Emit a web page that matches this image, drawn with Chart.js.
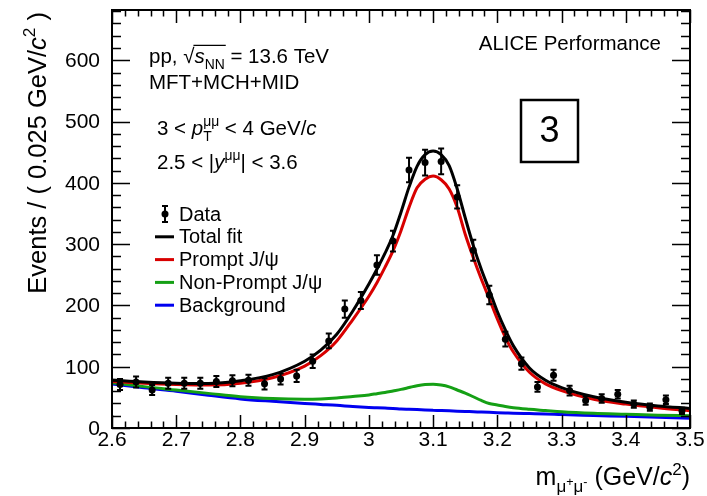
<!DOCTYPE html>
<html>
<head>
<meta charset="utf-8">
<script src="https://cdn.jsdelivr.net/npm/chart.js@4.4.0/dist/chart.umd.min.js"></script>
<style>
html, body { margin: 0; padding: 0; background: #fff; }
</style>
</head>
<body>
<canvas id="myChart" width="707" height="496"></canvas>
<script>
// Data points (bin centres, 0.025 GeV/c2 bins)
var binCenters = [2.6125, 2.6375, 2.6625, 2.6875, 2.7125, 2.7375, 2.7625, 2.7875, 2.8125, 2.8375,
    2.8625, 2.8875, 2.9125, 2.9375, 2.9625, 2.9875, 3.0125, 3.0375, 3.0625, 3.0875,
    3.1125, 3.1375, 3.1625, 3.1875, 3.2125, 3.2375, 3.2625, 3.2875, 3.3125, 3.3375,
    3.3625, 3.3875, 3.4125, 3.4375, 3.4625, 3.4875];
var counts = [71, 75, 62, 73, 73, 73, 76, 77, 78, 72,
    80, 85, 109, 142, 194, 208, 266, 305, 421, 433,
    435, 377, 290, 217, 145, 105, 67, 86, 61, 45,
    48, 55, 39, 34, 46, 28];
var errors = [9, 9, 8, 9, 9, 9, 9, 9, 9, 9,
    9, 10, 11, 12, 14, 14, 16, 17, 20, 21,
    21, 19, 17, 15, 12, 10, 8, 9, 8, 7,
    7, 7, 6, 6, 7, 5];

// Fit curves
var fitMass = [2.6, 2.65, 2.7, 2.75, 2.8, 2.85, 2.9, 2.925, 2.95, 2.975,
    3.0, 3.0125, 3.025, 3.0375, 3.05, 3.0625, 3.075, 3.0875, 3.1, 3.1125,
    3.125, 3.1375, 3.15, 3.1625, 3.175, 3.1875, 3.2, 3.2125, 3.225, 3.25,
    3.275, 3.3, 3.35, 3.4, 3.45, 3.5];
var totalFit = [78, 75, 73, 72.5, 77, 87, 109, 127, 153, 191,
    235, 259, 285, 314, 352, 393, 427, 446, 452, 446,
    428, 390, 343, 298, 259, 225, 190, 160, 134, 98,
    78, 66, 51, 42, 36, 32];
var promptFit = [76, 73, 71, 70, 73, 82, 101, 118, 142, 177,
    215, 237, 262, 289, 322, 360, 392, 406, 411, 405,
    390, 360, 316, 278, 243, 211, 178, 148, 124, 91,
    72, 61, 47, 39, 33, 28];
var nonPromptFit = [74, 67.5, 62, 56.5, 51, 48, 47, 47.5, 49, 51.5,
    54, 56, 58, 60.5, 63, 66, 69, 71, 71.5, 70,
    67, 62, 57, 51, 45, 40, 37.5, 35, 33, 30.5,
    28.5, 26.5, 24, 22.5, 21, 20];
var backgroundFit = [72, 65.5, 60, 53.5, 47.5, 43.5, 40, 38.5, 37, 35,
    33.5, 33, 32.5, 32, 31, 30.5, 30, 29.5, 29, 28.5,
    28, 27.5, 27, 26.5, 26, 25.5, 25, 24.5, 24, 23.5,
    23, 22, 20.5, 19, 17.5, 16];

// Axis ticks
var xTickValues = [2.6, 2.7, 2.8, 2.9, 3.0, 3.1, 3.2, 3.3, 3.4, 3.5];
var xTickLabels = ['2.6', '2.7', '2.8', '2.9', '3', '3.1', '3.2', '3.3', '3.4', '3.5'];
var yTickValues = [0, 100, 200, 300, 400, 500, 600];

var FONT = '"Liberation Sans", Arial, Helvetica, sans-serif';

function pts(xs, ys) {
    return xs.map(function (x, i) { return { x: x, y: ys[i] }; });
}

// draw text with sub/superscripts, returns width
function drawRich(ctx, x, y, parts, size, dry) {
    var x0 = x, holdW = 0, overX = 0;
    parts.forEach(function (p) {
        var fs = size, dy = 0;
        if (p.sup || p.sub) fs = size * 0.68;
        if (p.ssub) fs = size * 0.5;
        if (p.sup) dy = -size * 0.42;
        if (p.sub) dy = size * 0.28;
        if (p.ssub) dy = size * 0.02;
        ctx.font = (p.i ? 'italic ' : '') + fs.toFixed(1) + 'px ' + FONT;
        var w = ctx.measureText(p.t).width;
        if (!dry) ctx.fillText(p.t, x, y + dy);
        if (p.overStart) overX = x - 1;
        if (p.overEnd && !dry) {
            ctx.save();
            ctx.lineWidth = 1.3;
            ctx.beginPath();
            ctx.moveTo(overX, y - size * 0.86);
            ctx.lineTo(x + w + 1, y - size * 0.86);
            ctx.stroke();
            ctx.restore();
        }
        if (p.hold) {
            holdW = w;
        } else {
            x += Math.max(w, holdW);
            holdW = 0;
        }
    });
    return x - x0;
}

var rootStyle = {
    id: 'rootStyle',
    afterDatasetsDraw(chart) {
        var ctx = chart.ctx, xs = chart.scales.x, ys = chart.scales.y;
        // error bars of the data points
        ctx.save();
        ctx.strokeStyle = '#000';
        ctx.lineWidth = 2;
        for (var i = 0; i < counts.length; i++) {
            var px = xs.getPixelForValue(binCenters[i]);
            var lo = ys.getPixelForValue(counts[i] - errors[i]);
            var hi = ys.getPixelForValue(counts[i] + errors[i]);
            ctx.beginPath();
            ctx.moveTo(px, lo); ctx.lineTo(px, hi);
            ctx.moveTo(px - 3, lo); ctx.lineTo(px + 3, lo);
            ctx.moveTo(px - 3, hi); ctx.lineTo(px + 3, hi);
            ctx.stroke();
        }
        ctx.restore();
    },
    afterDraw(chart) {
        var ctx = chart.ctx, a = chart.chartArea;
        var xs = chart.scales.x, ys = chart.scales.y;
        ctx.save();
        ctx.strokeStyle = '#000';
        ctx.fillStyle = '#000';

        // frame
        ctx.lineWidth = 2;
        ctx.strokeRect(a.left, a.top, a.right - a.left, a.bottom - a.top);

        // ticks on all four sides, pointing inwards
        ctx.lineWidth = 1.5;
        ctx.beginPath();
        for (var k = 0; k <= 45; k++) {
            var v = 2.6 + k * 0.02;
            var px = Math.round(xs.getPixelForValue(v)) + 0.5;
            var len = (k % 5 === 0) ? 13 : 6.5;
            ctx.moveTo(px, a.bottom); ctx.lineTo(px, a.bottom - len);
            ctx.moveTo(px, a.top); ctx.lineTo(px, a.top + len);
        }
        for (var j = 0; j * 20 <= ys.max; j++) {
            var py = Math.round(ys.getPixelForValue(j * 20)) + 0.5;
            var ylen = (j % 5 === 0) ? 18 : 9;
            ctx.moveTo(a.left, py); ctx.lineTo(a.left + ylen, py);
            ctx.moveTo(a.right, py); ctx.lineTo(a.right - ylen, py);
        }
        ctx.stroke();

        // tick labels
        ctx.font = '21px ' + FONT;
        ctx.textAlign = 'center';
        ctx.textBaseline = 'alphabetic';
        xTickValues.forEach(function (v, i) {
            ctx.fillText(xTickLabels[i], xs.getPixelForValue(v), a.bottom + 18);
        });
        ctx.textAlign = 'right';
        ctx.textBaseline = 'middle';
        yTickValues.forEach(function (v) {
            ctx.fillText(String(v), a.left - 12, ys.getPixelForValue(v) + 1);
        });

        // axis titles (ROOT style: aligned to the end of the axis)
        ctx.textAlign = 'left';
        ctx.textBaseline = 'alphabetic';
        var xTitle = [{ t: 'm' }, { t: 'μ', sub: 1 }, { t: '+', ssub: 1 }, { t: 'μ', sub: 1 }, { t: '-', ssub: 1 },
            { t: ' (GeV/' }, { t: 'c', i: 1 }, { t: '2', sup: 1 }, { t: ')' }];
        var wx = drawRich(ctx, 0, 0, xTitle, 25, true);
        drawRich(ctx, a.right - wx, 485, xTitle, 25);

        var yTitle = [{ t: 'Events / ( 0.025 GeV/' }, { t: 'c', i: 1 }, { t: '2', sup: 1 }, { t: ' )' }];
        var wy = drawRich(ctx, 0, 0, yTitle, 25.5, true);
        ctx.save();
        ctx.translate(46, a.top + 2);
        ctx.rotate(-Math.PI / 2);
        drawRich(ctx, -wy, 0, yTitle, 25.5);
        ctx.restore();

        // text blocks
        drawRich(ctx, 149, 63, [{ t: 'pp, ' }, { t: '√' }, { t: 's', i: 1, overStart: 1 }, { t: 'NN', sub: 1, overEnd: 1 },
            { t: ' = 13.6 TeV' }], 20.5);
        drawRich(ctx, 149, 89, [{ t: 'MFT+MCH+MID' }], 20.5);
        drawRich(ctx, 157, 135, [{ t: '3 < ' }, { t: 'p', i: 1 }, { t: 'μμ', sup: 1, hold: 1 }, { t: 'T', sub: 1 },
            { t: ' < 4 GeV/' }, { t: 'c', i: 1 }], 20.5);
        drawRich(ctx, 157, 169, [{ t: '2.5 < |' }, { t: 'y', i: 1 }, { t: 'μμ', sup: 1 }, { t: '| < 3.6' }], 20.5);

        ctx.font = '20.5px ' + FONT;
        ctx.textAlign = 'right';
        ctx.fillText('ALICE Performance', 661, 50);

        // box with the pT interval number
        ctx.lineWidth = 2.5;
        ctx.strokeRect(521, 100, 57, 62);
        ctx.font = '36px ' + FONT;
        ctx.textAlign = 'center';
        ctx.textBaseline = 'middle';
        ctx.fillText('3', 549.5, 132);

        // legend
        var legendY = 214, step = 22.8;
        ctx.font = '20px ' + FONT;
        ctx.textAlign = 'left';
        ctx.textBaseline = 'middle';
        ctx.lineWidth = 2;
        ctx.beginPath();
        ctx.moveTo(165, legendY - 8); ctx.lineTo(165, legendY + 8);
        ctx.moveTo(162, legendY - 8); ctx.lineTo(168, legendY - 8);
        ctx.moveTo(162, legendY + 8); ctx.lineTo(168, legendY + 8);
        ctx.stroke();
        ctx.beginPath();
        ctx.arc(165, legendY, 3.5, 0, Math.PI * 2);
        ctx.fill();
        ctx.fillText('Data', 179, legendY + 1);
        var legendItems = [['Total fit', '#000000'], ['Prompt J/ψ', '#d80000'],
            ['Non-Prompt J/ψ', '#15a015'], ['Background', '#0000f0']];
        legendItems.forEach(function (it, i) {
            var ly = legendY + step * (i + 1);
            ctx.strokeStyle = it[1];
            ctx.lineWidth = 3;
            ctx.beginPath();
            ctx.moveTo(155, ly); ctx.lineTo(174, ly);
            ctx.stroke();
            ctx.fillText(it[0], 179, ly + 1);
        });
        ctx.restore();
    }
};

var ctx = document.getElementById('myChart').getContext('2d');
new Chart(ctx, {
    type: 'line',
    data: {
        datasets: [{
            label: 'Data',
            data: pts(binCenters, counts),
            showLine: false,
            pointRadius: 3.5,
            pointBackgroundColor: '#000',
            pointBorderWidth: 0
        }, {
            label: 'Total fit',
            data: pts(fitMass, totalFit),
            borderColor: '#000000',
            borderWidth: 3,
            pointRadius: 0,
            cubicInterpolationMode: 'monotone'
        }, {
            label: 'Prompt J/psi',
            data: pts(fitMass, promptFit),
            borderColor: '#d80000',
            borderWidth: 3,
            pointRadius: 0,
            cubicInterpolationMode: 'monotone'
        }, {
            label: 'Non-Prompt J/psi',
            data: pts(fitMass, nonPromptFit),
            borderColor: '#15a015',
            borderWidth: 3,
            pointRadius: 0,
            cubicInterpolationMode: 'monotone'
        }, {
            label: 'Background',
            data: pts(fitMass, backgroundFit),
            borderColor: '#0000f0',
            borderWidth: 3,
            pointRadius: 0,
            cubicInterpolationMode: 'monotone'
        }]
    },
    options: {
        responsive: false,
        animation: false,
        events: [],
        layout: { padding: { left: 112, right: 17, top: 10, bottom: 68 } },
        plugins: {
            legend: { display: false },
            tooltip: { enabled: false }
        },
        scales: {
            x: { type: 'linear', min: 2.6, max: 3.5, display: false },
            y: { type: 'linear', min: 0, max: 682, display: false }
        }
    },
    plugins: [rootStyle]
});
</script>
</body>
</html>
